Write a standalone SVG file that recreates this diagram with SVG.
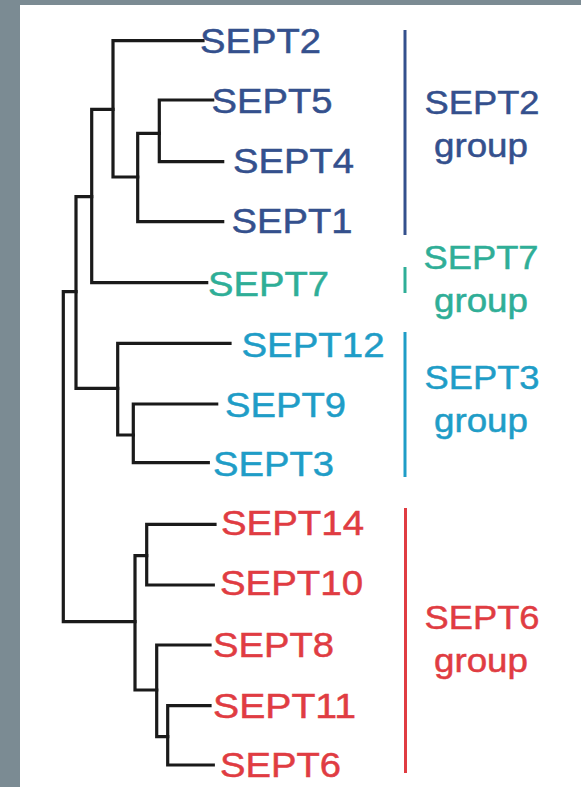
<svg xmlns="http://www.w3.org/2000/svg" width="581" height="787" viewBox="0 0 581 787">
  <style>
    .edge { fill: none; stroke: #1a1a1a; stroke-width: 3.2; stroke-linejoin: miter; stroke-linecap: square; }
    .leaf { font-family: "Liberation Sans", Arial, sans-serif; font-size: 35px; }
    .grp { font-family: "Liberation Sans", Arial, sans-serif; font-size: 34px; text-anchor: middle; }
    .bar { stroke-width: 3; }
    .g2 { fill: #34508d; stroke: #34508d; }
    .g7 { fill: #2fae97; stroke: #2fae97; }
    .g3 { fill: #1f9dc7; stroke: #1f9dc7; }
    .g6 { fill: #e03c42; stroke: #e03c42; }
    text { stroke-width: 0.5; }
  </style>

  <!-- frame -->
  <rect x="0" y="0" width="581" height="787" fill="#7b8b93"/>
  <rect x="20" y="5" width="561" height="782" fill="#ffffff"/>

  <!-- tree branches -->
  <g id="connectors">
    <path class="edge" d="M212.7 100 H159.3 V161.7 H222.7"/>
    <path class="edge" d="M159.3 133.3 H137.7 V221.7 H222.7"/>
    <path class="edge" d="M203 40.7 H113 V177 H137.7"/>
    <path class="edge" d="M113 109.3 H91.7 V282.7 H206.7"/>
    <path class="edge" d="M216.7 404 H133.3 V462.7 H208.3"/>
    <path class="edge" d="M230 343.3 H117.7 V435 H133.3"/>
    <path class="edge" d="M91.7 196.7 H76 V388.3 H117.7"/>
    <path class="edge" d="M215 524.3 H146.7 V585 H213.3"/>
    <path class="edge" d="M210 705.7 H167.7 V765 H213.3"/>
    <path class="edge" d="M210 645 H156.7 V736.7 H167.7"/>
    <path class="edge" d="M146.7 555.7 H135 V690 H156.7"/>
    <path class="edge" d="M76 291.7 H63.3 V621.7 H135"/>
  </g>

  <!-- leaves -->
  <g id="SEPT2" class="g2"><text class="leaf" x="200" y="52.5" textLength="121" lengthAdjust="spacingAndGlyphs">SEPT2</text></g>
  <g id="SEPT5" class="g2"><text class="leaf" x="211.5" y="113" textLength="121" lengthAdjust="spacingAndGlyphs">SEPT5</text></g>
  <g id="SEPT4" class="g2"><text class="leaf" x="233" y="172.5" textLength="121" lengthAdjust="spacingAndGlyphs">SEPT4</text></g>
  <g id="SEPT1" class="g2"><text class="leaf" x="231.5" y="233" textLength="121" lengthAdjust="spacingAndGlyphs">SEPT1</text></g>
  <g id="SEPT7" class="g7"><text class="leaf" x="208" y="296" textLength="121" lengthAdjust="spacingAndGlyphs">SEPT7</text></g>
  <g id="SEPT12" class="g3"><text class="leaf" x="241.5" y="357" textLength="143" lengthAdjust="spacingAndGlyphs">SEPT12</text></g>
  <g id="SEPT9" class="g3"><text class="leaf" x="225" y="416.5" textLength="121" lengthAdjust="spacingAndGlyphs">SEPT9</text></g>
  <g id="SEPT3" class="g3"><text class="leaf" x="213" y="476" textLength="121" lengthAdjust="spacingAndGlyphs">SEPT3</text></g>
  <g id="SEPT14" class="g6"><text class="leaf" x="221" y="535" textLength="143" lengthAdjust="spacingAndGlyphs">SEPT14</text></g>
  <g id="SEPT10" class="g6"><text class="leaf" x="220" y="595" textLength="143" lengthAdjust="spacingAndGlyphs">SEPT10</text></g>
  <g id="SEPT8" class="g6"><text class="leaf" x="213" y="656.5" textLength="121" lengthAdjust="spacingAndGlyphs">SEPT8</text></g>
  <g id="SEPT11" class="g6"><text class="leaf" x="213" y="718" textLength="143" lengthAdjust="spacingAndGlyphs">SEPT11</text></g>
  <g id="SEPT6" class="g6"><text class="leaf" x="220" y="776.5" textLength="121" lengthAdjust="spacingAndGlyphs">SEPT6</text></g>

  <!-- group brackets and names -->
  <g id="group-SEPT2" class="g2">
    <line class="bar" x1="405" y1="30" x2="405" y2="235"/>
    <text class="grp" x="482" y="114" textLength="115" lengthAdjust="spacingAndGlyphs">SEPT2</text>
    <text class="grp" x="481" y="157" textLength="94" lengthAdjust="spacingAndGlyphs">group</text>
  </g>
  <g id="group-SEPT7" class="g7">
    <line class="bar" x1="405" y1="267" x2="405" y2="293"/>
    <text class="grp" x="481" y="268.5" textLength="115" lengthAdjust="spacingAndGlyphs">SEPT7</text>
    <text class="grp" x="481" y="312" textLength="94" lengthAdjust="spacingAndGlyphs">group</text>
  </g>
  <g id="group-SEPT3" class="g3">
    <line class="bar" x1="405" y1="332" x2="405" y2="477"/>
    <text class="grp" x="482" y="388.5" textLength="115" lengthAdjust="spacingAndGlyphs">SEPT3</text>
    <text class="grp" x="481" y="432" textLength="94" lengthAdjust="spacingAndGlyphs">group</text>
  </g>
  <g id="group-SEPT6" class="g6">
    <line class="bar" x1="405.5" y1="508" x2="405.5" y2="773"/>
    <text class="grp" x="482" y="628.5" textLength="115" lengthAdjust="spacingAndGlyphs">SEPT6</text>
    <text class="grp" x="481" y="672" textLength="94" lengthAdjust="spacingAndGlyphs">group</text>
  </g>
</svg>
